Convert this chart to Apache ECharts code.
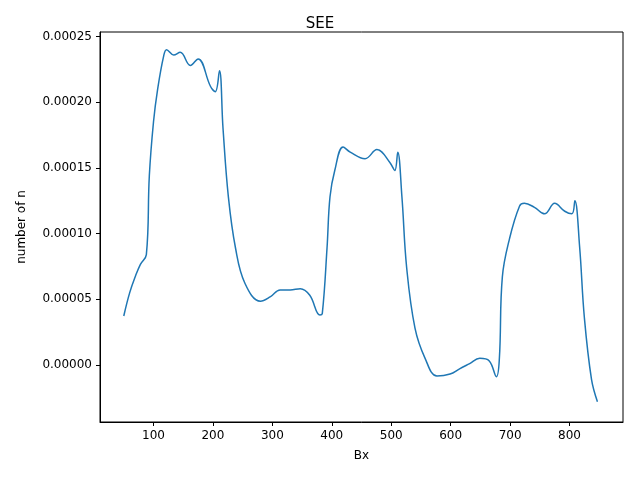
<!DOCTYPE html>
<html><head><meta charset="utf-8">
<script src="https://cdn.jsdelivr.net/npm/echarts@6/dist/echarts.min.js"></script>
<style>body{margin:0}#c{width:640px;height:480px}</style></head>
<body><div id="c"></div>
<script>
const xs=[50,60,70,78,88,93,100,107,117,122,134,145,162,175,196,204,211,217,226,238,254,280,297,313,330,347,363,380,384,392,397,405,419,431,456,476,498,506,511,518,526,540,557,577,599,615,632,649,665,677,682,687,699,716,724,741,758,775,792,804,809,817,825,837,847];
const ysE5=[3.72,5.5,6.8,7.66,8.4,14.4,18.5,21.0,23.5,24.0,23.6,23.8,22.8,23.3,21.2,20.8,22.4,18.0,12.8,8.9,6.2,4.85,5.2,5.7,5.7,5.8,5.3,3.8,3.9,8.9,12.8,14.8,16.6,16.2,15.7,16.4,15.4,14.8,16.2,12.8,7.4,2.8,0.5,-0.85,-0.7,-0.3,0.1,0.5,0.3,-0.9,0.5,6.7,9.6,12.1,12.3,12.0,11.5,12.3,11.7,11.5,12.5,9.0,3.6,-1.1,-2.8];
const xTicks=[100,200,300,400,500,600,700,800];
const yTicks=[0,0.00005,0.0001,0.00015,0.0002,0.00025];
const data=xs.map((x,i)=>[x,ysE5[i]*1e-5]);
const font='DejaVu Sans';
const ch=echarts.init(document.getElementById('c'));
ch.setOption({
 animation:false,
 title:{text:'SEE',left:'center',top:12,textStyle:{fontFamily:font,fontSize:15,fontWeight:'normal',color:'#000'}},
 grid:{left:100,right:17,top:32,bottom:58},
 xAxis:{type:'value',min:10,max:890,name:'Bx',nameLocation:'middle',nameGap:28,
  nameTextStyle:{fontFamily:font,fontSize:12,color:'#000'},
  axisLine:{onZero:false,lineStyle:{color:'#000'}},splitLine:{show:false},
  axisTick:{customValues:xTicks,length:4,lineStyle:{color:'#000'}},
  axisLabel:{customValues:xTicks,fontFamily:font,fontSize:12,color:'#000'}},
 yAxis:{type:'value',min:-0.0000435,max:0.0002535,name:'number of n',nameLocation:'middle',nameGap:72,
  nameTextStyle:{fontFamily:font,fontSize:12,color:'#000'},
  axisLine:{show:true,onZero:false,lineStyle:{color:'#000'}},splitLine:{show:false},
  axisTick:{show:true,customValues:yTicks,length:4,lineStyle:{color:'#000'}},
  axisLabel:{customValues:yTicks,fontFamily:font,fontSize:12,color:'#000',formatter:v=>v.toFixed(5)}},
 graphic:[{type:'rect',shape:{x:100,y:32,width:523,height:390},style:{fill:'none',stroke:'#000',lineWidth:1}}],
 series:[{type:'line',data:data,smooth:0.4,showSymbol:false,lineStyle:{color:'#1f77b4',width:1.5}}]
});
</script></body></html>
